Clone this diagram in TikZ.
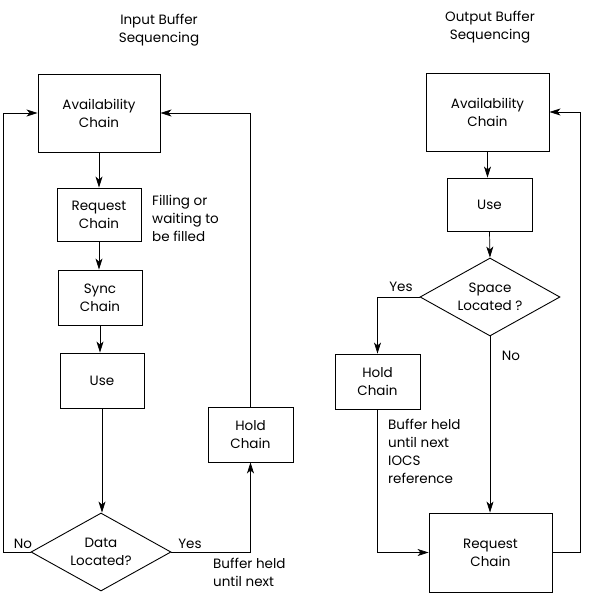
\documentclass[tikz,border=0pt]{standalone}
\usepackage{fontspec}
\setmainfont{Poppins}
\usetikzlibrary{shapes.geometric,arrows.meta}
\begin{document}
\begin{tikzpicture}[x=1pt,y=-1pt,
  font=\fontsize{13.5}{18}\selectfont,
  box/.style={draw,line width=0.9pt,align=center,inner sep=0pt},
  dia/.style={draw,line width=0.9pt,diamond,align=center,inner sep=0pt,
    minimum width=140pt,minimum height=78pt,shape aspect=1.8},
  arr/.style={line width=0.7pt,-{Stealth[length=11pt,width=7pt,inset=3pt]}},
  lbl/.style={align=left,inner sep=0pt}]
\useasboundingbox (0,0) rectangle (605,594);
% titles
\node[align=center] (t1) at (159,30) {Input Buffer\\Sequencing};
\node[align=center] (t2) at (490,27) {Output Buffer\\Sequencing};
% left column
\node[box,minimum width=122pt,minimum height=78pt] (avL) at (99,113) {Availability\\Chain};
\node[box,minimum width=84pt,minimum height=53pt] (reqL) at (99,214.5) {Request\\Chain};
\node[box,minimum width=84pt,minimum height=55pt] (syncL) at (100,297.5) {Sync\\Chain};
\node[box,minimum width=84pt,minimum height=55pt] (useL) at (102,380.5) {Use};
\node[dia] (dataL) at (101,552) {Data\\Located?};
\node[box,minimum width=85pt,minimum height=55pt] (holdL) at (250.5,434.5) {Hold\\Chain};
\node[lbl,anchor=west] (fill) at (152,218.5) {Filling or\\waiting to\\be filled};
\node[lbl] (noL) at (23,544) {No};
\node[lbl] (yesL) at (190,544) {Yes};
\node[lbl,anchor=north west] (bufL) at (213,558) {Buffer held\\until next};
\draw[arr] (avL.south) -- (reqL.north -| avL.south);
\draw[arr] (reqL.south) -- (syncL.north -| reqL.south);
\draw[arr] (syncL.south) -- (useL.north -| syncL.south);
\draw[arr] (useL.south) -- (dataL.north -| useL.south);
\draw[arr] (dataL.west) -- ++(-27,0) |- (avL.west);
\draw[arr] (dataL.east) -| (holdL.south);
\draw[arr] (holdL.north) |- (avL.east);
% right column
\node[box,minimum width=123pt,minimum height=78pt] (avR) at (487.5,112) {Availability\\Chain};
\node[box,minimum width=85pt,minimum height=53pt] (useR) at (489.5,204.5) {Use};
\node[dia] (spaceR) at (490,297) {Space\\Located ?};
\node[box,minimum width=85pt,minimum height=55pt] (holdR) at (377.5,381.5) {Hold\\Chain};
\node[box,minimum width=123pt,minimum height=79pt] (reqR) at (490.5,552.5) {Request\\Chain};
\node[lbl] (yesR) at (401,287) {Yes};
\node[lbl] (noR) at (511,356) {No};
\node[lbl,anchor=north west] (bufR) at (388,419) {Buffer held\\until next\\IOCS\\reference};
\draw[arr] (avR.south) -- (useR.north -| avR.south);
\draw[arr] (useR.south) -- (spaceR.north);
\draw[arr] (spaceR.south) -- (reqR.north -| spaceR.south);
\draw[arr] (spaceR.west) -| (holdR.north);
\draw[arr] (holdR.south) |- (reqR.west);
\draw[arr] (reqR.east) -- ++(28,0) |- (avR.east);
\end{tikzpicture}
\end{document}
